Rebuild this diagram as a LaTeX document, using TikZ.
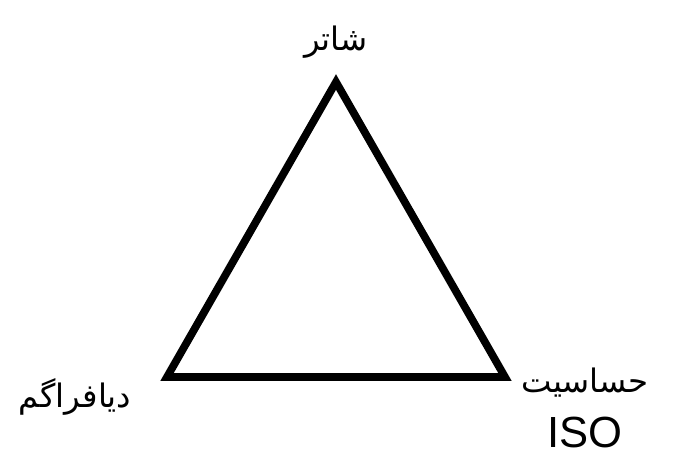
\documentclass[tikz,border=0pt]{standalone}
\usepackage{fontspec}
\setmainfont{Liberation Sans}
\newfontfamily\arabicfont[Script=Arabic]{DejaVu Sans}
\TeXXeTstate=1
\usetikzlibrary{positioning}

\begin{document}
\begin{tikzpicture}[x=0.025cm,y=-0.025cm,line width=5.5pt,line join=miter]
\tikzstyle{every node}=[inner sep=0pt,text=black]
\tikzset{label/.style={font=\arabicfont\fontsize{23pt}{27}\selectfont}}
\useasboundingbox (0,0) rectangle (687,458);

        \coordinate (top)   at (336,82);
        \coordinate (left)  at (167,377);
        \coordinate (right) at (505,377);

        \draw (top) -- (left) -- (right) -- cycle;

        \node[label]  (shutter)  at (336,42)  {\beginR شاتر\endR};
        \node[label]  (aperture) at (75,397)  {\beginR دیافراگم\endR};
        \node[label]  (sens)     at (585,383) {\beginR حساسیت\endR};
        \node[font=\fontsize{31pt}{36}\selectfont, below=8pt of sens] (iso) {ISO};

\end{tikzpicture}
\end{document}
